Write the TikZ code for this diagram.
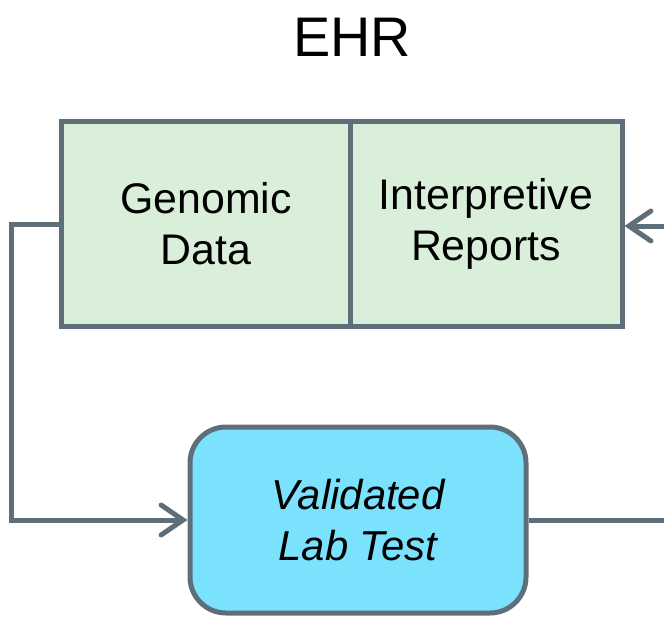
\documentclass[tikz,border=0pt]{standalone}
\usepackage{fontspec}
\setmainfont{Liberation Sans}
\usetikzlibrary{arrows.meta}
\usetikzlibrary{positioning}
\definecolor{mslate}{HTML}{5E6F7A}
\definecolor{mgreen}{HTML}{D9EFD9}
\definecolor{mcyan}{HTML}{7BE2FE}

\tikzset{
  ehrpart/.style={draw=mslate, line width=5bp, fill=mgreen, minimum height=204bp, inner sep=0pt, align=center, font=\fontsize{43}{51}\selectfont},
  testbox/.style={draw=mslate, line width=5bp, fill=mcyan, rounded corners=36bp, minimum width=336bp, minimum height=186bp, inner sep=0pt, align=center, font=\fontsize{42}{51}\selectfont\itshape},
  link/.style={draw=mslate, line width=5bp},
  tip/.style={-{Straight Barb[length=22bp, width=30bp, line cap=round]}}
}

\begin{document}
\begin{tikzpicture}[x=1bp, y=-1bp]
      \useasboundingbox (0, 0) rectangle (664, 617);

      \node (ehr) at (352, 37) {\fontsize{56}{60}\selectfont EHR};

      \node [ehrpart, minimum width=288bp] (genomic) at (206, 224) {Genomic\\Data};
      \node [ehrpart, minimum width=272bp] (reports) at (486, 224) {Interpretive\\Reports};

      \node [testbox] (labtest) at (358, 520) {Validated\\Lab Test};

      \coordinate (rin) at (670, 226);
      \coordinate (rout) at (670, 520);

      \draw [link, tip] (genomic.west) -- ++(-48, 0) |- (labtest.west);
      \draw [link, tip] (rin) -- (reports.east |- rin);
      \draw [link] (labtest.east) -- (rout);
    \end{tikzpicture}
\end{document}
